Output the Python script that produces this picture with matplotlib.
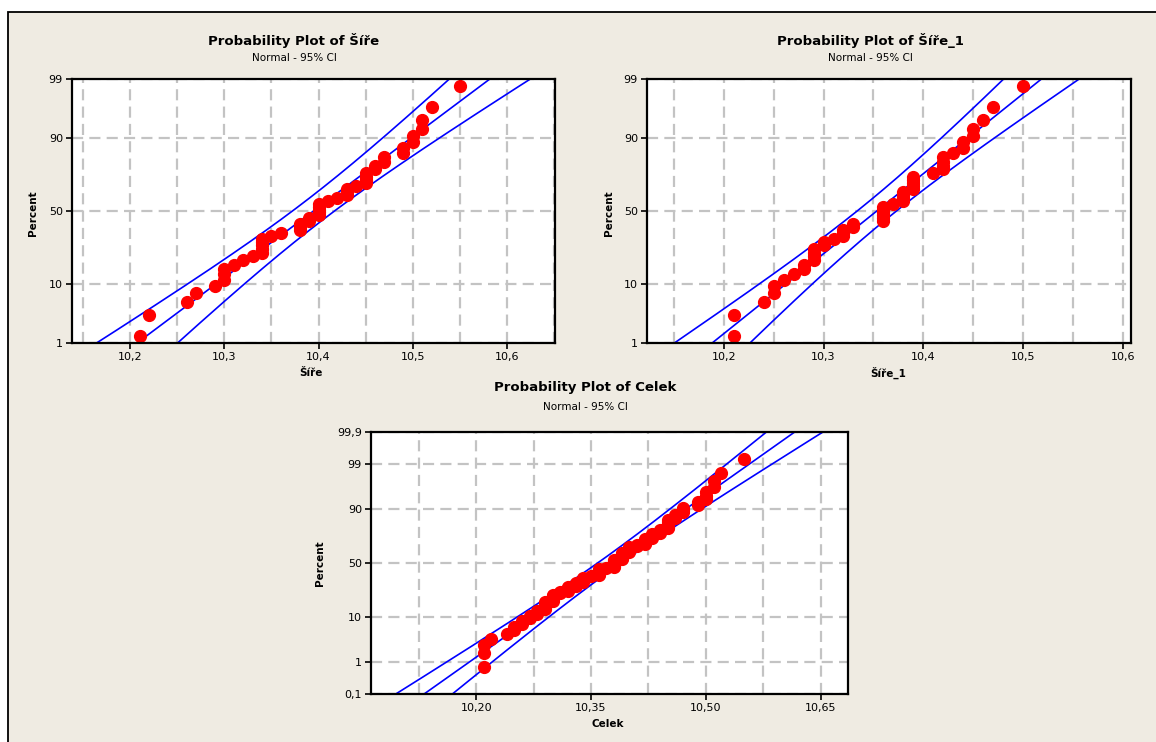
import numpy as np
import matplotlib
matplotlib.use('Agg')
import matplotlib.pyplot as plt
from matplotlib.patches import Rectangle
from statistics import NormalDist

# data (hundredths, sorted)
sire = [10.21, 10.22, 10.26, 10.27, 10.29,
        10.30, 10.30, 10.30, 10.31, 10.32, 10.33,
        10.34, 10.34, 10.34, 10.34, 10.34, 10.35, 10.36,
        10.38, 10.38, 10.38, 10.39, 10.39,
        10.40, 10.40, 10.40, 10.40, 10.40, 10.41, 10.42,
        10.43, 10.43, 10.43, 10.44, 10.45, 10.45, 10.45, 10.45,
        10.46, 10.46, 10.47, 10.47, 10.49, 10.49, 10.50, 10.50,
        10.51, 10.51, 10.52, 10.55]
sire_1 = [10.21, 10.21, 10.24, 10.25, 10.25, 10.26, 10.27, 10.28, 10.28,
          10.29, 10.29, 10.29, 10.29, 10.30, 10.30, 10.31,
          10.32, 10.32, 10.32, 10.33, 10.33,
          10.36, 10.36, 10.36, 10.36, 10.36, 10.36,
          10.37, 10.38, 10.38, 10.38, 10.38,
          10.39, 10.39, 10.39, 10.39, 10.39,
          10.41, 10.42, 10.42, 10.42, 10.42, 10.43,
          10.44, 10.44, 10.45, 10.45, 10.46, 10.47, 10.50]
celek = sorted(sire + sire_1)

pct_ticks = [1, 10, 50, 90, 99]
pct_labels = ['1', '10', '50', '90', '99']
pct_ticks_c = [0.1, 1, 10, 50, 90, 99, 99.9]
pct_labels_c = ['0,1', '1', '10', '50', '90', '99', '99,9']

x_ticks_1 = [10.2, 10.3, 10.4, 10.5, 10.6]
x_labels_1 = ['10,2', '10,3', '10,4', '10,5', '10,6']
x_ticks_c = [10.20, 10.35, 10.50, 10.65]
x_labels_c = ['10,20', '10,35', '10,50', '10,65']

W, H = 1156, 742
BG = '#EFEBE2'
GRID = '#C3C3C3'

nd = NormalDist()
_ppf = np.vectorize(nd.inv_cdf, otypes=[float])
_cdf = np.vectorize(nd.cdf, otypes=[float])


def to_z(p):
    p = np.clip(np.asarray(p, dtype=float), 1e-7, 100 - 1e-7)
    return _ppf(p / 100.0)


def to_pct(z):
    return _cdf(np.asarray(z, dtype=float)) * 100.0


def px_box(left, top, right, bottom):
    return [left / W, 1 - bottom / H, (right - left) / W, (bottom - top) / H]


def prob_plot(ax, data, xlim, xgrid, xticks, xlabels, ylim, yticks, ylabels):
    x = np.sort(np.array(data))
    n = len(x)
    rank = np.arange(1, n + 1)
    pct = (rank - 0.3) / (n + 0.4) * 100  # Benard median ranks
    mu = x.mean()
    sd = x.std(ddof=1)

    zz = np.linspace(-3.8, 3.8, 600)
    pp = to_pct(zz)
    fit = mu + zz * sd
    half = 1.96 * sd * np.sqrt(1.0 / n + zz ** 2 / (2.0 * n))

    ax.set_yscale('function', functions=(to_z, to_pct))
    ax.set_facecolor('white')

    for v in xgrid:
        ax.axvline(v, color=GRID, lw=1.6, ls=(0, (5, 2.8)), zorder=1)
    for v in yticks:
        ax.axhline(v, color=GRID, lw=1.6, ls=(0, (5, 2.8)), zorder=1)

    ax.plot(fit, pp, color='#0000FF', lw=1.2, zorder=2)
    ax.plot(fit - half, pp, color='#0000FF', lw=1.2, zorder=2)
    ax.plot(fit + half, pp, color='#0000FF', lw=1.2, zorder=2)
    ax.plot(x, pct, 'o', color='#FF0000', ms=8.5, mec='#FF0000', zorder=3)

    ax.set_xlim(*xlim)
    ax.set_ylim(*ylim)
    ax.set_xticks(xticks)
    ax.set_xticklabels(xlabels)
    ax.set_yticks(yticks)
    ax.set_yticklabels(ylabels)
    ax.minorticks_off()
    ax.tick_params(direction='out', length=4.5, width=1.2, labelsize=8,
                   pad=2, top=False, right=False)
    for s in ax.spines.values():
        s.set_linewidth(1.6)
        s.set_color('black')
        s.set_zorder(4)


fig = plt.figure(figsize=(W / 100, H / 100), dpi=100, facecolor='white')
fig.patches.append(Rectangle((8 / W, -0.05), 1.1, 1.05 - 12 / H,
                             transform=fig.transFigure, facecolor=BG,
                             edgecolor='black', linewidth=1.3, zorder=-10))

ax1 = fig.add_axes(px_box(72, 79, 555, 343))
prob_plot(ax1, sire, (10.1382, 10.6511), np.arange(10.15, 10.66, 0.05),
          x_ticks_1, x_labels_1, (1, 99), pct_ticks, pct_labels)

ax2 = fig.add_axes(px_box(647, 79, 1131, 343))
prob_plot(ax2, sire_1, (10.1229, 10.6084), np.arange(10.15, 10.61, 0.05),
          x_ticks_1, x_labels_1, (1, 99), pct_ticks, pct_labels)

ax3 = fig.add_axes(px_box(371, 432, 848, 694))
prob_plot(ax3, celek, (10.0627, 10.6856), np.arange(10.125, 10.66, 0.075),
          x_ticks_c, x_labels_c, (0.1, 99.9), pct_ticks_c, pct_labels_c)


def ftext(x, y, s, **kw):
    fig.text(x / W, 1 - y / H, s, ha='center', va='center', **kw)


# titles, subtitles and axis labels
ftext(294, 40, 'Probability Plot of Šíře', fontsize=9.5, fontweight='bold')
ftext(294, 58, 'Normal - 95% CI', fontsize=7.5)
ftext(870, 40, 'Probability Plot of Šíře_1', fontsize=9.5, fontweight='bold')
ftext(870, 58, 'Normal - 95% CI', fontsize=7.5)
ftext(585, 388, 'Probability Plot of Celek', fontsize=9.5, fontweight='bold')
ftext(585, 407, 'Normal - 95% CI', fontsize=7.5)

ftext(33, 213, 'Percent', fontsize=7.5, fontweight='bold', rotation=90)
ftext(609, 213, 'Percent', fontsize=7.5, fontweight='bold', rotation=90)
ftext(320, 563, 'Percent', fontsize=7.5, fontweight='bold', rotation=90)

ftext(311, 373, 'Šíře', fontsize=7.5, fontweight='bold')
ftext(888, 373, 'Šíře_1', fontsize=7.5, fontweight='bold')
ftext(608, 724, 'Celek', fontsize=7.5, fontweight='bold')

fig.savefig('out.png', dpi=100, facecolor='white')
